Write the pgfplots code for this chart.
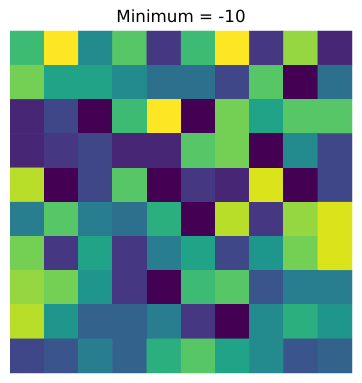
\documentclass[border=0pt]{standalone}
\usepackage{pgfplots}
\pgfplotsset{compat=1.18}
\usepackage{pgfplotstable}
\usepackage{fontspec}
\setmainfont{DejaVu Sans}
\pgfplotstableread{
r c0 c1 c2 c3 c4 c5 c6 c7 c8 c9
0 3 9 -1 4 -7 3 9 -7 6 -8
1 5 1 1 -1 -3 -3 -6 4 -10 -3
2 -8 -6 -10 3 9 -10 5 1 4 4
3 -8 -7 -6 -8 -8 4 5 -10 -1 -6
4 7 -10 -6 4 -10 -7 -8 8 -10 -6
5 -2 4 -2 -3 2 -10 7 -7 6 8
6 5 -7 1 -7 -2 1 -6 0 5 8
7 6 5 0 -7 -10 3 4 -5 -2 -2
8 7 0 -4 -4 -2 -7 -10 -1 2 0
9 -6 -5 -2 -4 2 4 1 -1 -5 -4
}\grid
\begin{document}
\begin{tikzpicture}
\begin{axis}[
  name=ax,
  scale only axis,
  width=342pt, height=342pt,
  hide axis,
  xmin=-0.5, xmax=9.5, ymin=-0.5, ymax=9.5,
  y dir=reverse,
  enlargelimits=false,
  colormap/viridis,
  point meta min=-10, point meta max=9,
]
\addplot[matrix plot*, mesh/cols=10, mesh/rows=10, point meta=explicit] coordinates {
(0,0)[3] (1,0)[9] (2,0)[-1] (3,0)[4] (4,0)[-7] (5,0)[3] (6,0)[9] (7,0)[-7] (8,0)[6] (9,0)[-8]
(0,1)[5] (1,1)[1] (2,1)[1] (3,1)[-1] (4,1)[-3] (5,1)[-3] (6,1)[-6] (7,1)[4] (8,1)[-10] (9,1)[-3]
(0,2)[-8] (1,2)[-6] (2,2)[-10] (3,2)[3] (4,2)[9] (5,2)[-10] (6,2)[5] (7,2)[1] (8,2)[4] (9,2)[4]
(0,3)[-8] (1,3)[-7] (2,3)[-6] (3,3)[-8] (4,3)[-8] (5,3)[4] (6,3)[5] (7,3)[-10] (8,3)[-1] (9,3)[-6]
(0,4)[7] (1,4)[-10] (2,4)[-6] (3,4)[4] (4,4)[-10] (5,4)[-7] (6,4)[-8] (7,4)[8] (8,4)[-10] (9,4)[-6]
(0,5)[-2] (1,5)[4] (2,5)[-2] (3,5)[-3] (4,5)[2] (5,5)[-10] (6,5)[7] (7,5)[-7] (8,5)[6] (9,5)[8]
(0,6)[5] (1,6)[-7] (2,6)[1] (3,6)[-7] (4,6)[-2] (5,6)[1] (6,6)[-6] (7,6)[0] (8,6)[5] (9,6)[8]
(0,7)[6] (1,7)[5] (2,7)[0] (3,7)[-7] (4,7)[-10] (5,7)[3] (6,7)[4] (7,7)[-5] (8,7)[-2] (9,7)[-2]
(0,8)[7] (1,8)[0] (2,8)[-4] (3,8)[-4] (4,8)[-2] (5,8)[-7] (6,8)[-10] (7,8)[-1] (8,8)[2] (9,8)[0]
(0,9)[-6] (1,9)[-5] (2,9)[-2] (3,9)[-4] (4,9)[2] (5,9)[4] (6,9)[1] (7,9)[-1] (8,9)[-5] (9,9)[-4]
};
\coordinate (sw) at (rel axis cs:0,0);
\coordinate (ne) at (rel axis cs:1,1);
\coordinate (tt) at (rel axis cs:0.5,1);
\end{axis}
\node[anchor=base, font=\fontsize{16.7}{20}\selectfont, inner sep=0pt] at ([yshift=8pt]ax.north) {Minimum = -10};
\pgfresetboundingbox
\path[use as bounding box] ([shift={(-10pt,-10pt)}]sw) rectangle ([shift={(9pt,31pt)}]ne);
\end{tikzpicture}
\end{document}
